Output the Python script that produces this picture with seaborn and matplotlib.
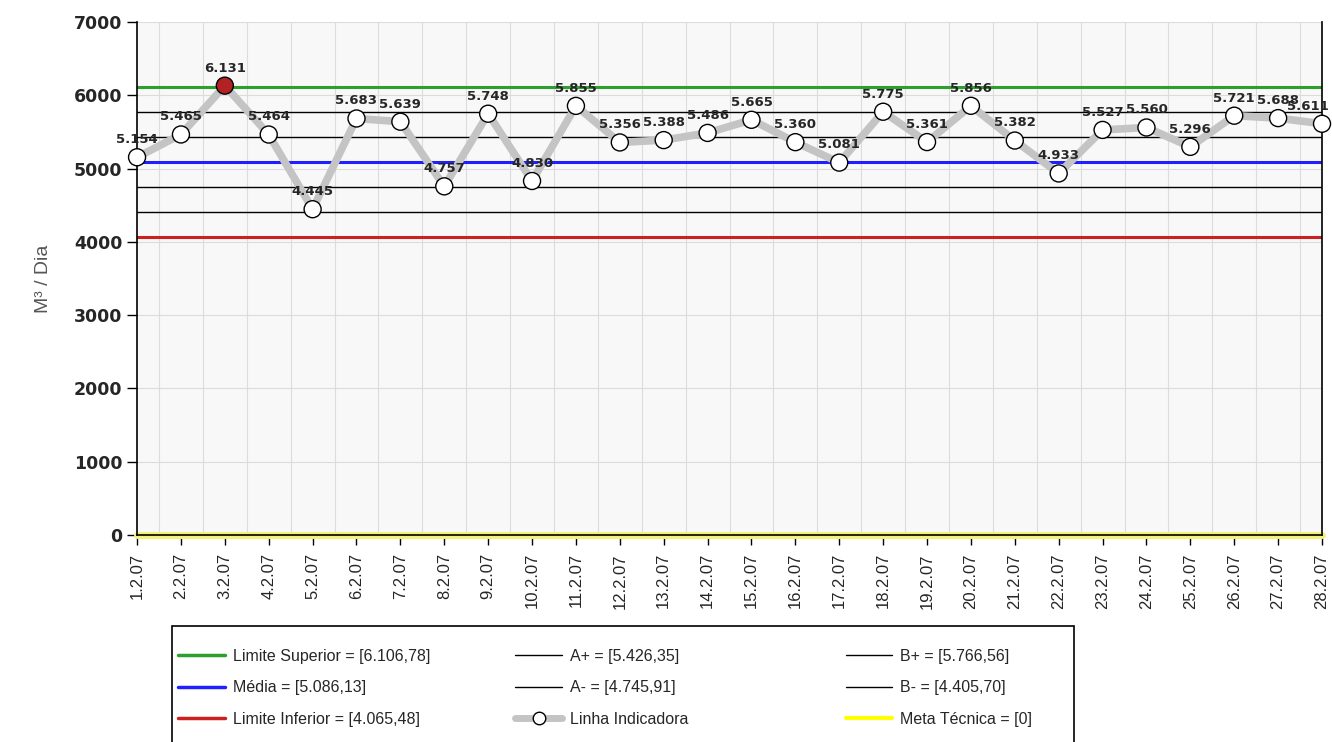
import matplotlib
matplotlib.use("Agg")
import matplotlib.pyplot as plt
import seaborn as sns
import pandas as pd
from matplotlib.lines import Line2D
from matplotlib.patches import Rectangle

dates = [f"{d}.2.07" for d in range(1, 29)]
values = [5154, 5465, 6131, 5464, 4445, 5683, 5639, 4757, 5748, 4830,
          5855, 5356, 5388, 5486, 5665, 5360, 5081, 5775, 5361, 5856,
          5382, 4933, 5527, 5560, 5296, 5721, 5688, 5611]

limite_superior = 6106.78
b_plus = 5766.56
a_plus = 5426.35
media = 5086.13
a_minus = 4745.91
b_minus = 4405.70
limite_inferior = 4065.48
meta = 0

sns.set_style("white")
plt.rcParams['font.family'] = ['Liberation Sans', 'DejaVu Sans']

fig = plt.figure(figsize=(13.32, 7.42), dpi=100)
ax = fig.add_axes([0.1029, 0.279, 0.8896, 0.6914])
ax.set_facecolor("#f8f8f8")

df = pd.DataFrame({"x": range(len(values)), "v": values})

ref = [
    (limite_superior, "#2ca02c", 2.2),
    (b_plus, "black", 1.0),
    (a_plus, "black", 1.0),
    (media, "#1f1fff", 2.2),
    (a_minus, "black", 1.0),
    (b_minus, "black", 1.0),
    (limite_inferior, "#cc2020", 2.2),
]
for val, c, lw in ref:
    ax.axhline(val, color=c, lw=lw, zorder=2)
ax.axhline(meta, color="#f2f27a", lw=5, zorder=2, clip_on=False)

sns.lineplot(data=df, x="x", y="v", ax=ax, color="#c4c4c4", lw=5.5, zorder=3)
colors = ["#b22222" if v > limite_superior else "white" for v in values]
ax.scatter(df["x"], df["v"], s=150, c=colors, edgecolors="black",
           linewidths=1.0, zorder=4, clip_on=False)

n = len(values)
for i, v in enumerate(values):
    lbl = f"{v:,}".replace(",", ".")
    dx = -10 if i == n - 1 else 0
    ax.annotate(lbl, (i, v), xytext=(dx, 8), textcoords="offset points",
                ha="center", va="bottom", fontsize=9.5, fontweight="bold",
                family="DejaVu Sans", zorder=5, annotation_clip=False)

ax.set_xlim(0, n - 1)
ax.set_ylim(0, 7000)
ax.set_yticks(range(0, 7001, 1000))
ax.set_yticklabels([str(t) for t in range(0, 7001, 1000)],
                   fontsize=12.5, fontweight="bold", family="DejaVu Sans")
ax.set_xticks(range(n))
ax.set_xticklabels(dates, rotation=90, fontsize=12)
ax.set_xticks([i + 0.5 for i in range(n - 1)], minor=True)
ax.grid(False)
ax.grid(True, which="minor", axis="x", color="#dcdcdc", lw=0.8, zorder=0)
ax.grid(True, which="major", axis="y", color="#dcdcdc", lw=0.8, zorder=0)
ax.tick_params(axis="both", which="major", direction="out", length=7,
               width=1, color="black", left=True, bottom=True)
ax.tick_params(axis="x", which="major", pad=6)
ax.tick_params(axis="x", which="minor", length=0)
ax.set_xlabel("")
ax.set_ylabel("M³ / Dia", fontsize=14, color="#555555", labelpad=16)

for s in ["left", "bottom", "right"]:
    ax.spines[s].set_visible(True)
    ax.spines[s].set_color("black")
    ax.spines[s].set_linewidth(1.2)
ax.spines["top"].set_visible(False)

def h(color, lw=2.5, **kw):
    return Line2D([0], [0], color=color, lw=lw, **kw)

cols = [
    ([h("#2ca02c"), h("#1f1fff"), h("#cc2020")],
     ["Limite Superior = [6.106,78]", "Média = [5.086,13]",
      "Limite Inferior = [4.065,48]"], 0.134),
    ([h("black", 1.0), h("black", 1.0),
      Line2D([0], [0], color="#c4c4c4", lw=5, marker="o", markersize=9,
             markerfacecolor="white", markeredgecolor="black")],
     ["A+ = [5.426,35]", "A- = [4.745,91]", "Linha Indicadora"], 0.387),
    ([h("black", 1.0), h("black", 1.0), h("#ffff00", 3)],
     ["B+ = [5.766,56]", "B- = [4.405,70]", "Meta Técnica = [0]"], 0.635),
]
for hs, ls, x0 in cols:
    fig.legend(hs, ls, loc="upper left", bbox_to_anchor=(x0, 0.126),
               frameon=False, fontsize=11.5, handlelength=2.9,
               labelspacing=1.05, handletextpad=0.5, borderpad=0,
               borderaxespad=0)

fig.patches.append(Rectangle((0.129, -0.01), 0.677, 0.166,
                             transform=fig.transFigure, fill=False,
                             edgecolor="black", lw=1.2))

fig.savefig("out.png", dpi=100)
